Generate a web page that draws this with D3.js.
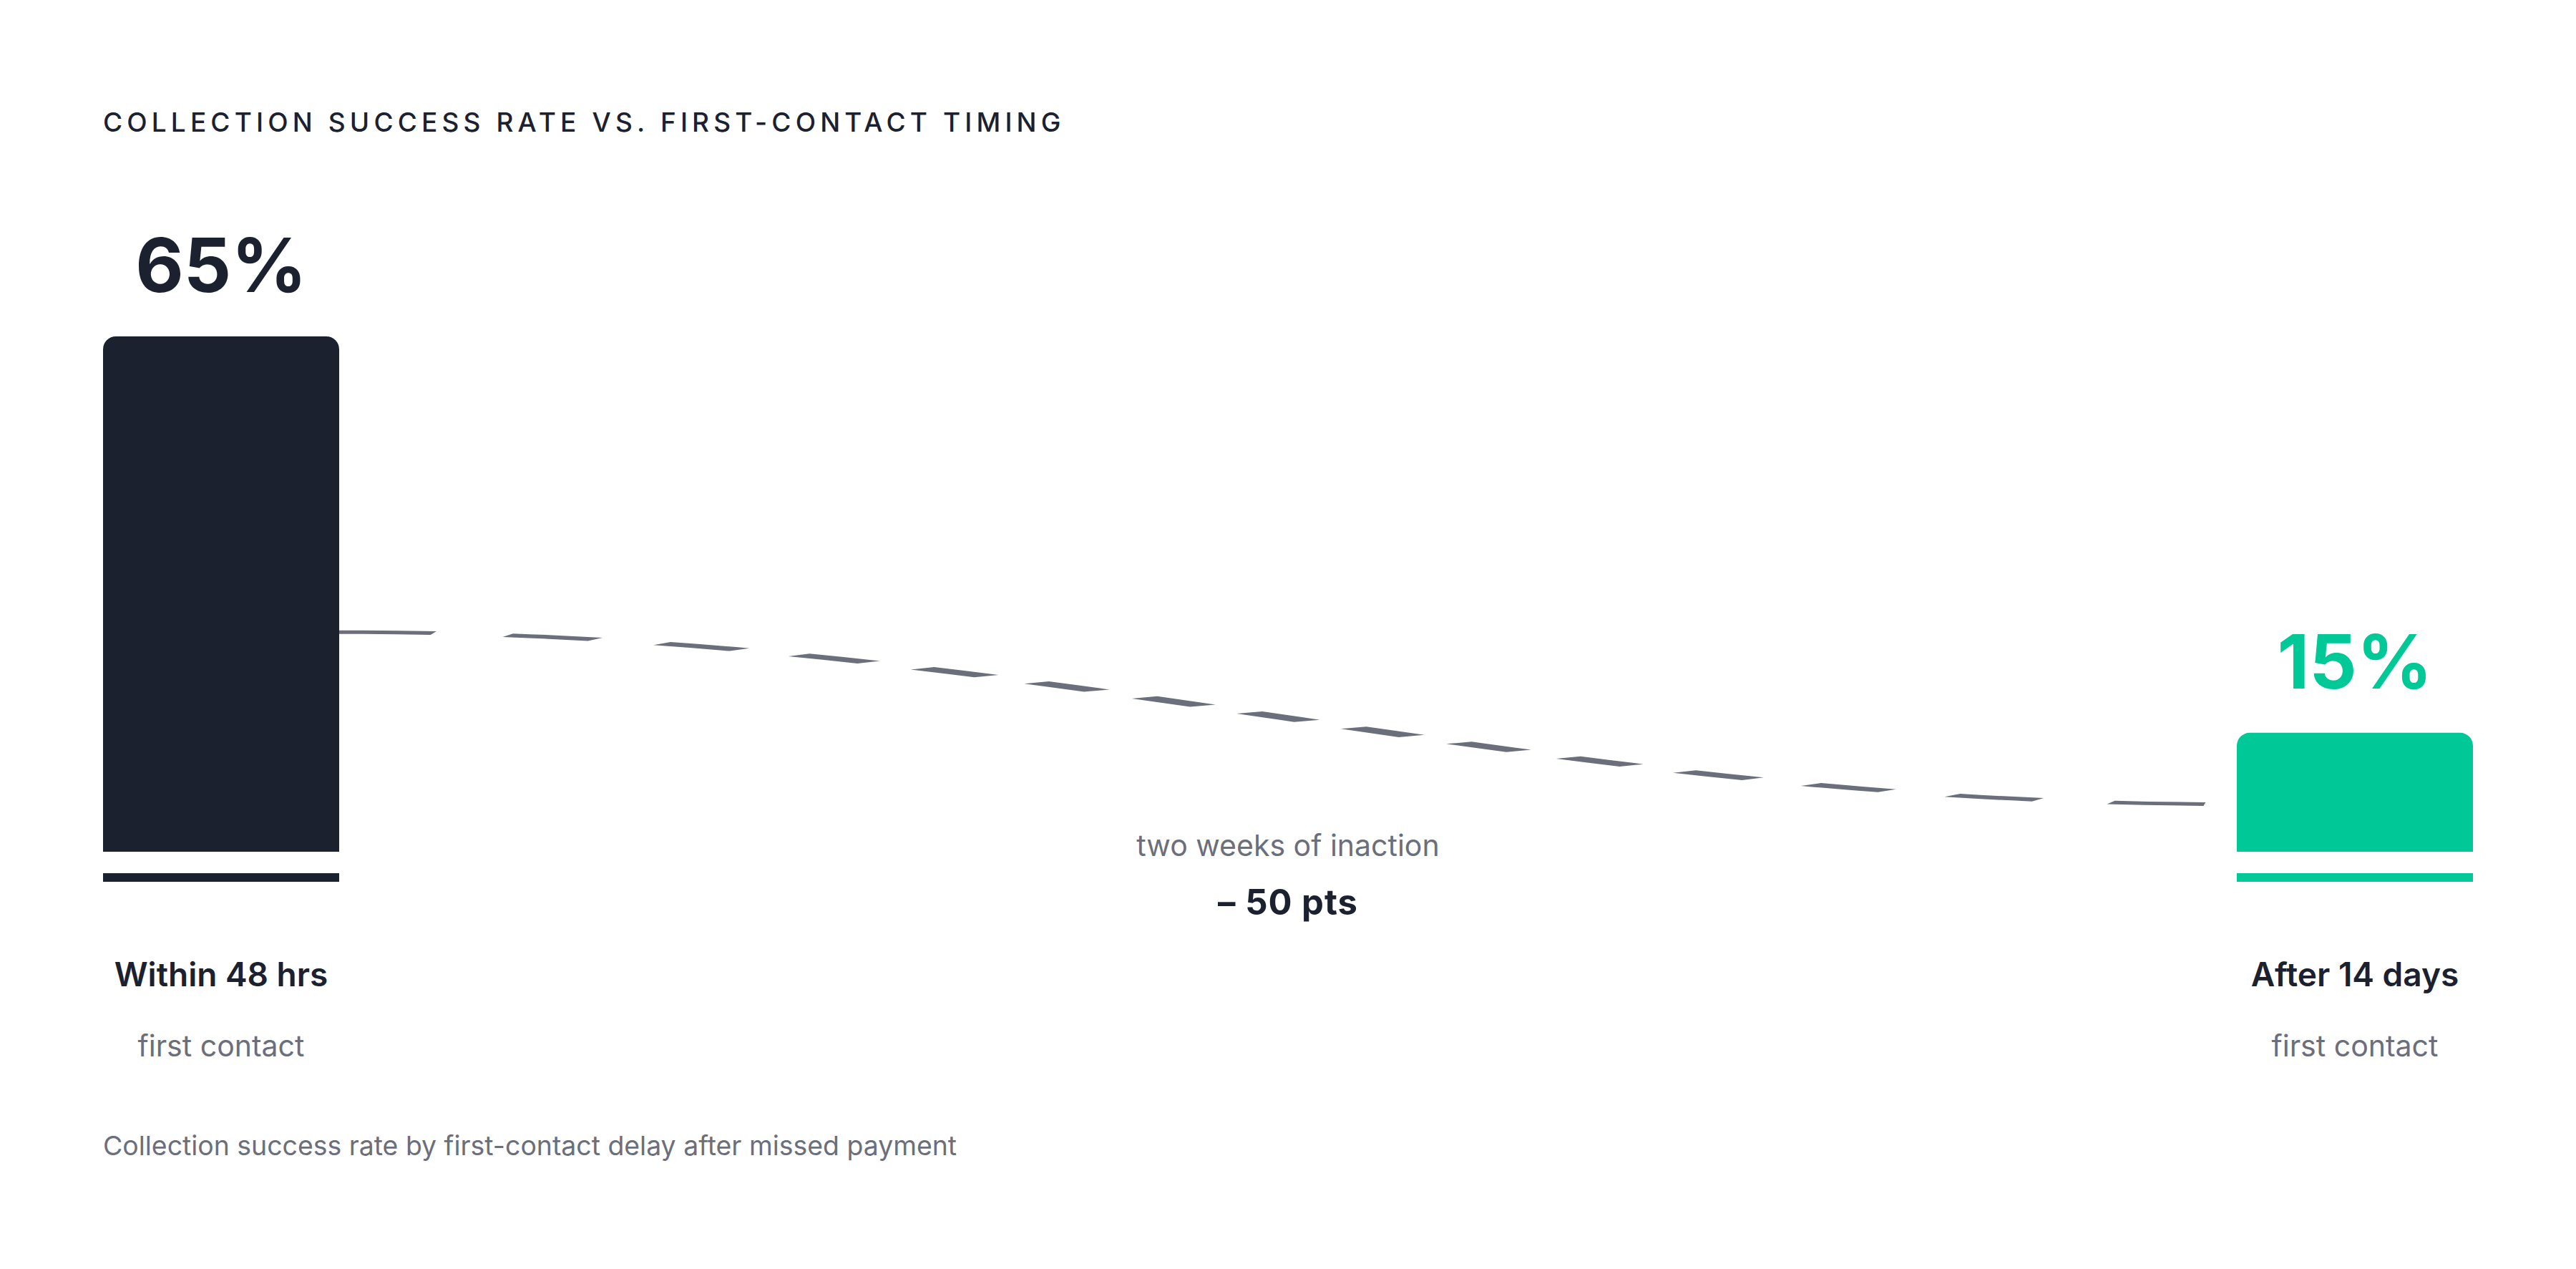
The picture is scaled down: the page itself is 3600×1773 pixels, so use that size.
<!DOCTYPE html>
<html>
<head>
<meta charset="utf-8">
<script src="https://cdn.jsdelivr.net/npm/d3@7"></script>
<style>
  html, body { margin: 0; padding: 0; background: #ffffff; }
  svg { display: block; font-family: Inter, "Noto Sans", sans-serif; }
</style>
</head>
<body>
<script>
// ---------- data ----------
const categories   = ["Within 48 hrs", "After 14 days"];
const subLabels    = ["first contact", "first contact"];
const values       = [65, 15];
const barColors    = ["#1c2130", "#00c896"];
const labelColors  = ["#1c2130", "#00c896"];
const connectorLevels = [27.7, 6.0];   // where the connector meets each bar (% units)
const titleText    = "COLLECTION SUCCESS RATE VS. FIRST-CONTACT TIMING";
const deltaCaption = "two weeks of inaction";
const footnote     = "Collection success rate by first-contact delay after missed payment";

// ---------- layout ----------
const W = 3600, H = 1773;
const left = 144, right = 3456;
const barW = 330;
const baseY = 1190, topY = 470;
const dark = "#1c2130", gray = "#6b6e7b";

const svg = d3.select("body").append("svg")
  .attr("width", W).attr("height", H).attr("viewBox", `0 0 ${W} ${H}`);
svg.append("rect").attr("width", W).attr("height", H).attr("fill", "#fff");

const span = right - left;
const pad = (span - 2 * barW) / (span - barW);
const x = d3.scaleBand().domain(categories).range([left, right]).paddingInner(pad).paddingOuter(0);
const y = d3.scaleLinear().domain([0, d3.max(values)]).range([baseY, topY]);

// title
svg.append("text")
  .attr("x", left).attr("y", 184)
  .attr("font-size", 37).attr("font-weight", 500)
  .attr("letter-spacing", "0.166em")
  .attr("fill", dark)
  .text(titleText);

function topRoundedRect(x0, y0, w, h, r) {
  const p = d3.path();
  p.moveTo(x0, y0 + h);
  p.lineTo(x0, y0 + r);
  p.arcTo(x0, y0, x0 + r, y0, r);
  p.lineTo(x0 + w - r, y0);
  p.arcTo(x0 + w, y0, x0 + w, y0 + r, r);
  p.lineTo(x0 + w, y0 + h);
  p.closePath();
  return p.toString();
}

const data = categories.map((c, i) => ({ c, v: values[i], sub: subLabels[i], col: barColors[i], lc: labelColors[i] }));

// connector (dashed curve, drawn in a stretched local space)
{
  const x0 = x(categories[0]) + x.bandwidth();
  const x1 = x(categories[1]);
  const y0 = y(connectorLevels[0]);
  const y1 = y(connectorLevels[1]);
  const sx = (x1 - x0) / 100;
  const sy = sx / 9;
  const h = (y1 - y0) / sy;
  const a = 0.38;
  const p = d3.path();
  p.moveTo(0, 0);
  p.bezierCurveTo(a * 100, 0, (1 - a) * 100, h, 100, h);
  svg.append("g")
    .attr("transform", `translate(${x0},${y0}) scale(${sx},${sy})`)
    .append("path")
    .attr("d", p.toString())
    .attr("fill", "none")
    .attr("stroke", gray)
    .attr("stroke-width", 1.7)
    .attr("stroke-dasharray", "5.0 4.05");
}

// bars
svg.selectAll("path.bar").data(data).join("path")
  .attr("class", "bar")
  .attr("d", d => topRoundedRect(x(d.c), y(d.v), x.bandwidth(), baseY - y(d.v), 18))
  .attr("fill", d => d.col);

// baseline stripes
svg.selectAll("rect.base").data(data).join("rect")
  .attr("class", "base")
  .attr("x", d => x(d.c)).attr("y", baseY + 30)
  .attr("width", x.bandwidth()).attr("height", 12)
  .attr("fill", d => d.col);

// value labels
svg.selectAll("text.val").data(data).join("text")
  .attr("class", "val")
  .attr("x", d => x(d.c) + x.bandwidth() / 2)
  .attr("y", d => y(d.v) - 62)
  .attr("text-anchor", "middle")
  .attr("font-size", 104).attr("font-weight", 700)
  .attr("fill", d => d.lc)
  .text(d => d.v + "%");

// category labels
svg.selectAll("text.cat").data(data).join("text")
  .attr("class", "cat")
  .attr("x", d => x(d.c) + x.bandwidth() / 2)
  .attr("y", 1378)
  .attr("text-anchor", "middle")
  .attr("font-size", 46).attr("font-weight", 600)
  .attr("fill", dark)
  .text(d => d.c);

svg.selectAll("text.sub").data(data).join("text")
  .attr("class", "sub")
  .attr("x", d => x(d.c) + x.bandwidth() / 2)
  .attr("y", 1476)
  .attr("text-anchor", "middle")
  .attr("font-size", 41).attr("font-weight", 400)
  .attr("fill", gray)
  .text(d => d.sub);

// delta annotation
const midX = (x(categories[0]) + x.bandwidth() + x(categories[1])) / 2;
svg.append("text")
  .attr("x", midX).attr("y", 1196)
  .attr("text-anchor", "middle")
  .attr("font-size", 41).attr("font-weight", 400)
  .attr("fill", gray)
  .text(deltaCaption);
svg.append("text")
  .attr("x", midX).attr("y", 1278)
  .attr("text-anchor", "middle")
  .attr("font-size", 49).attr("font-weight", 700)
  .attr("letter-spacing", "0.02em")
  .attr("fill", dark)
  .text(`– ${values[0] - values[1]} pts`);

// footnote
svg.append("text")
  .attr("x", left).attr("y", 1614)
  .attr("font-size", 37.4).attr("font-weight", 400)
  .attr("fill", gray)
  .text(footnote);
</script>
</body>
</html>
